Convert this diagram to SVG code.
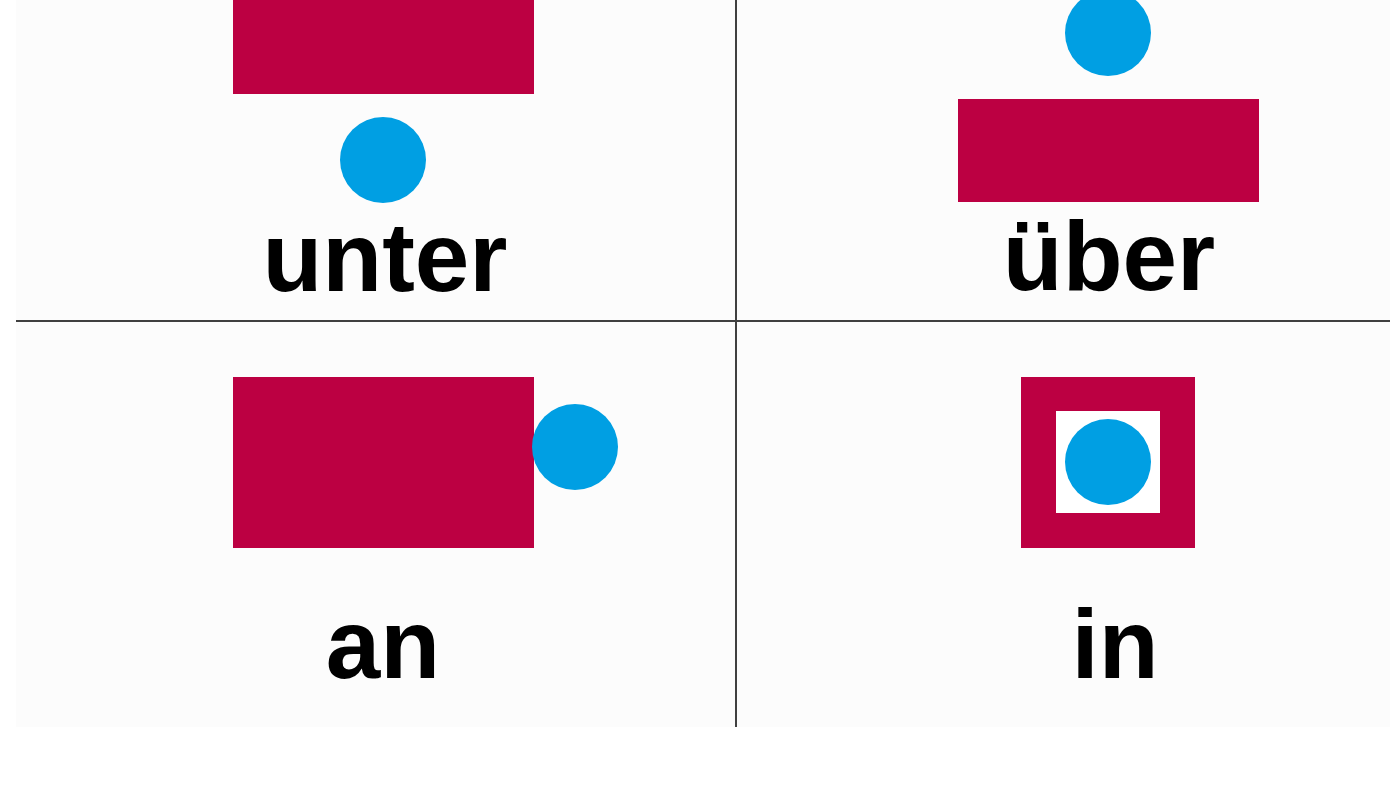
<svg xmlns="http://www.w3.org/2000/svg" width="1390" height="787" viewBox="0 0 1390 787">
<style>
.red{fill:#bc0042}
.blue{fill:#009fe3}
.lbl{font-family:"Liberation Sans",Arial,sans-serif;font-weight:bold;font-size:98px;fill:#000;text-anchor:middle}
.div{stroke:#404040;stroke-width:2;fill:none}
</style>
<rect x="0" y="0" width="1390" height="787" fill="#ffffff"/>
<rect x="16" y="0" width="1374" height="727" fill="#fcfcfc"/>
<g id="connectors">
<line class="div" x1="16" y1="321" x2="1390" y2="321"/>
<line class="div" x1="736" y1="0" x2="736" y2="727"/>
</g>
<g id="unter">
<rect class="red" x="233" y="0" width="301" height="94"/>
<circle class="blue" cx="383" cy="160" r="43"/>
<text class="lbl" x="385" y="291">unter</text>
</g>
<g id="ueber">
<circle class="blue" cx="1108" cy="33" r="43"/>
<rect class="red" x="958" y="99" width="301" height="103"/>
<text class="lbl" x="1109" y="290">über</text>
</g>
<g id="an">
<rect class="red" x="233" y="377" width="301" height="171"/>
<circle class="blue" cx="575" cy="447" r="43"/>
<text class="lbl" x="383" y="678">an</text>
</g>
<g id="in">
<rect class="red" x="1021" y="377" width="174" height="171"/>
<rect x="1056" y="411" width="104" height="102" fill="#ffffff"/>
<circle class="blue" cx="1108" cy="462" r="43"/>
<text class="lbl" x="1115" y="678">in</text>
</g>
</svg>
